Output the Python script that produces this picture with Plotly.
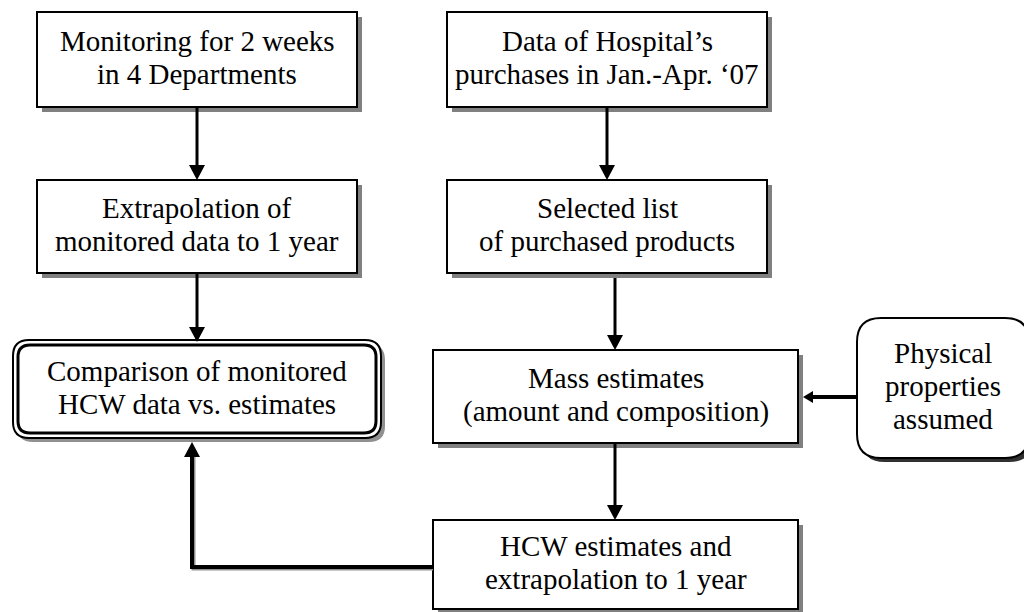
import plotly.graph_objects as go

# ---- content (text) ----
box_names = ["monitor", "data", "extrap", "selected", "compare", "mass", "physical", "hcw"]
monitor_lines = ["Monitoring for 2 weeks", "in 4 Departments"]
data_lines = ["Data of Hospital\u2019s", "purchases in Jan.-Apr. \u201807"]
extrap_lines = ["Extrapolation of", "monitored data to 1 year"]
selected_lines = ["Selected list", "of purchased products"]
compare_lines = ["Comparison of monitored", "HCW data vs. estimates"]
mass_lines = ["Mass estimates", "(amount and composition)"]
physical_lines = ["Physical", "properties", "assumed"]
hcw_lines = ["HCW estimates and", "extrapolation to 1 year"]

texts = {
    "monitor": monitor_lines, "data": data_lines, "extrap": extrap_lines,
    "selected": selected_lines, "compare": compare_lines, "mass": mass_lines,
    "physical": physical_lines, "hcw": hcw_lines,
}

# ---- layout geometry (pixel canvas, y downwards) ----
geom = {
    "monitor": (37, 12, 357, 107, "rect"),
    "data": (447, 12, 767, 107, "rect"),
    "extrap": (37, 180, 357, 273, "rect"),
    "selected": (447, 180, 767, 273, "rect"),
    "compare": (13, 340, 381, 438, "double"),
    "mass": (433, 350, 798, 443, "rect"),
    "physical": (857, 318, 1029, 458, "round"),
    "hcw": (433, 520, 798, 609, "rect"),
}

W, H = 1032, 612
PAGE_OFF = 8  # default page body margin
LINE_GAP = 33
FONT = "Liberation Serif, Times New Roman, serif"
FS = 29

shapes = []
annotations = []


def rrect(x0, y0, x1, y1, r):
    return (f"M {x0+r},{y0} L {x1-r},{y0} Q {x1},{y0} {x1},{y0+r} "
            f"L {x1},{y1-r} Q {x1},{y1} {x1-r},{y1} L {x0+r},{y1} "
            f"Q {x0},{y1} {x0},{y1-r} L {x0},{y0+r} Q {x0},{y0} {x0+r},{y0} Z")


# shadows first
for name in box_names:
    x0, y0, x1, y1, kind = geom[name]
    if kind == "rect":
        shapes.append(dict(type="rect", x0=x0 + 5, y0=y0 + 5, x1=x1 + 5, y1=y1 + 5,
                           fillcolor="#808080", line=dict(width=0)))
    elif kind == "double":
        shapes.append(dict(type="path", path=rrect(x0 + 4, y0 + 4, x1 + 4, y1 + 4, 16),
                           fillcolor="#909090", line=dict(width=0)))
    else:
        shapes.append(dict(type="path", path=rrect(x0 + 4, y0 + 4, x1 + 4, y1 + 4, 24),
                           fillcolor="#303030", line=dict(width=0)))

# boxes
for name in box_names:
    x0, y0, x1, y1, kind = geom[name]
    if kind == "rect":
        shapes.append(dict(type="rect", x0=x0, y0=y0, x1=x1, y1=y1,
                           fillcolor="white", line=dict(color="black", width=2)))
    elif kind == "double":
        shapes.append(dict(type="path", path=rrect(x0, y0, x1, y1, 16),
                           fillcolor="white", line=dict(color="black", width=2)))
        shapes.append(dict(type="path", path=rrect(x0 + 5, y0 + 5, x1 - 5, y1 - 5, 12),
                           fillcolor="white", line=dict(color="black", width=3)))
    else:
        shapes.append(dict(type="path", path=rrect(x0, y0, x1, y1, 24),
                           fillcolor="white", line=dict(color="black", width=2)))

    cx = (x0 + x1) / 2
    cy = (y0 + y1) / 2 - 2
    lines = texts[name]
    n = len(lines)
    for i, t in enumerate(lines):
        ly = cy + (i - (n - 1) / 2) * LINE_GAP
        annotations.append(dict(x=cx, y=ly, xref="x", yref="y", text=t, showarrow=False,
                                xanchor="center", yanchor="middle",
                                font=dict(family=FONT, size=FS, color="black")))


def vline_arrow(x, ya, yb, w=3, head=15, hw=8):
    d = 1 if yb > ya else -1
    shapes.append(dict(type="line", x0=x, y0=ya, x1=x, y1=yb - d * head,
                       line=dict(color="black", width=w)))
    shapes.append(dict(type="path",
                       path=f"M {x-hw},{yb-d*head} L {x+hw},{yb-d*head} L {x},{yb} Z",
                       fillcolor="black", line=dict(width=0)))


def hline_arrow(y, xa, xb, w=4, head=10, hw=6):
    d = 1 if xb > xa else -1
    shapes.append(dict(type="line", x0=xa, y0=y, x1=xb - d * head, y1=y,
                       line=dict(color="black", width=w)))
    shapes.append(dict(type="path",
                       path=f"M {xb-d*head},{y-hw} L {xb-d*head},{y+hw} L {xb},{y} Z",
                       fillcolor="black", line=dict(width=0)))


# connectors
vline_arrow(197, geom["monitor"][3], geom["extrap"][1])
vline_arrow(607, geom["data"][3], geom["selected"][1])
vline_arrow(197, geom["extrap"][3], geom["compare"][1] + 2)
vline_arrow(615, geom["selected"][3] + 5, geom["mass"][1])
vline_arrow(615, geom["mass"][3], geom["hcw"][1])
hline_arrow(397, geom["physical"][0], geom["mass"][2] + 5)

# elbow connector HCW -> Comparison
ey = 567
ex = 192
cb = geom["compare"][3]
shapes.append(dict(type="path",
                   path=f"M {geom['hcw'][0]},{ey+1.5} L {ex+1.5},{ey+1.5} L {ex+1.5},{cb+18}",
                   line=dict(color="#909090", width=4)))
shapes.append(dict(type="path",
                   path=f"M {geom['hcw'][0]},{ey} L {ex},{ey} L {ex},{cb+17}",
                   line=dict(color="black", width=4)))
shapes.append(dict(type="path",
                   path=f"M {ex-8},{cb+19} L {ex+8},{cb+19} L {ex},{cb+4} Z",
                   fillcolor="black", line=dict(width=0)))

fig = go.Figure()
fig.update_layout(
    width=W - PAGE_OFF, height=H - PAGE_OFF,
    margin=dict(l=0, r=0, t=0, b=0),
    paper_bgcolor="white", plot_bgcolor="white",
    xaxis=dict(range=[PAGE_OFF, W], visible=False, fixedrange=True),
    yaxis=dict(range=[H, PAGE_OFF], visible=False, fixedrange=True),
    shapes=shapes, annotations=annotations, showlegend=False,
)
fig.write_html("out.html", config=dict(displayModeBar=False))
